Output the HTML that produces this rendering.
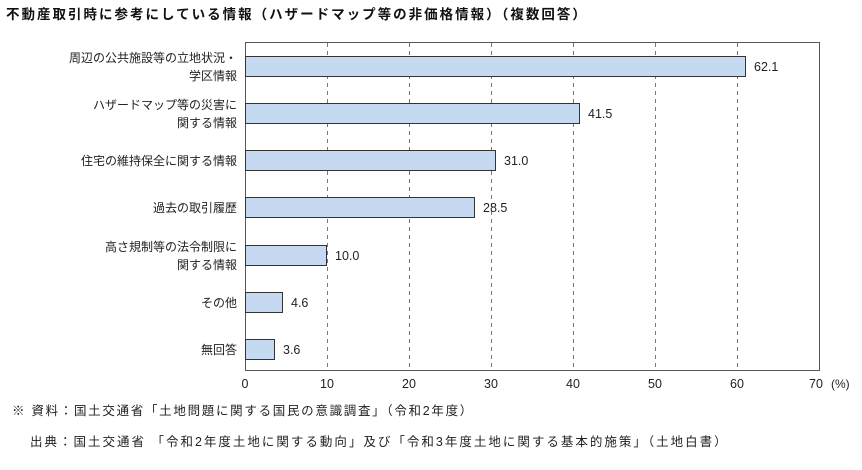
<!DOCTYPE html>
<html><head><meta charset="utf-8"><style>
body{margin:0;background:#fff;width:862px;height:465px;overflow:hidden;font-family:"Liberation Sans","Noto Sans CJK JP",sans-serif;}
</style></head><body>
<svg width="862" height="465" xmlns="http://www.w3.org/2000/svg" font-family="Liberation Sans, Noto Sans CJK JP, sans-serif">
<text x="6" y="19" font-size="13.5" font-weight="bold" fill="#111" letter-spacing="2">不動産取引時に参考にしている情報（ハザードマップ等の非価格情報）（複数回答）</text>
<rect x="245.5" y="42.5" width="574" height="328" fill="none" stroke="#555" stroke-width="1"/>
<g stroke="#777" stroke-dasharray="4,4" stroke-width="1">
<line x1="327.5" y1="43" x2="327.5" y2="370"/><line x1="409.5" y1="43" x2="409.5" y2="370"/>
<line x1="491.5" y1="43" x2="491.5" y2="370"/><line x1="573.5" y1="43" x2="573.5" y2="370"/>
<line x1="655.5" y1="43" x2="655.5" y2="370"/><line x1="737.5" y1="43" x2="737.5" y2="370"/>
</g>
<g fill="#c5d9f1" stroke="#333" stroke-width="1">
<rect x="245.5" y="56.5" width="500" height="20"/>
<rect x="245.5" y="103.5" width="334" height="20"/>
<rect x="245.5" y="150.5" width="250" height="20"/>
<rect x="245.5" y="197.5" width="229" height="20"/>
<rect x="245.5" y="245.5" width="81" height="20"/>
<rect x="245.5" y="292.5" width="37" height="20"/>
<rect x="245.5" y="339.5" width="29" height="20"/>
</g>
<g font-size="12.5" fill="#222">
<text x="754" y="71">62.1</text><text x="588" y="118">41.5</text><text x="504" y="165">31.0</text>
<text x="483" y="212">28.5</text><text x="335" y="260">10.0</text><text x="291" y="307">4.6</text><text x="283" y="354">3.6</text>
</g>
<g font-size="12" fill="#222" text-anchor="end">
<text x="237" y="62">周辺の公共施設等の立地状況・</text><text x="237" y="80">学区情報</text>
<text x="237" y="109">ハザードマップ等の災害に</text><text x="237" y="127">関する情報</text>
<text x="237" y="165">住宅の維持保全に関する情報</text>
<text x="237" y="212">過去の取引履歴</text>
<text x="237" y="251">高さ規制等の法令制限に</text><text x="237" y="269">関する情報</text>
<text x="237" y="307">その他</text>
<text x="237" y="354">無回答</text>
</g>
<g font-size="12.5" fill="#222" text-anchor="middle">
<text x="245" y="388">0</text><text x="327" y="388">10</text><text x="409" y="388">20</text><text x="491" y="388">30</text>
<text x="573" y="388">40</text><text x="655" y="388">50</text><text x="737" y="388">60</text><text x="816" y="388">70</text>
</g>
<text x="831" y="388" font-size="12" fill="#222">(%)</text>
<text x="12" y="415" font-size="12.5" fill="#222" letter-spacing="1.7">※ 資料：国土交通省「土地問題に関する国民の意識調査」（令和2年度）</text>
<text x="30" y="446" font-size="12.5" fill="#222" letter-spacing="2">出典：国土交通省 「令和2年度土地に関する動向」及び「令和3年度土地に関する基本的施策」（土地白書）</text>
</svg>
</body></html>
